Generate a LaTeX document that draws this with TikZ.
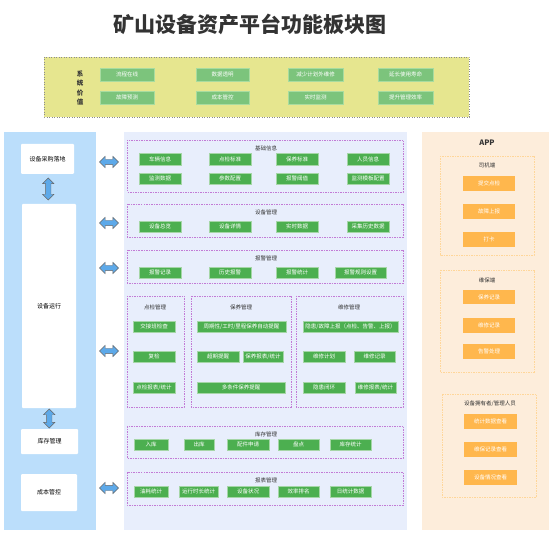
\documentclass[tikz,border=0pt]{standalone}
\usepackage{fontspec}
\setmainfont{Noto Sans CJK SC}
\usetikzlibrary{shapes.arrows,calc}
\definecolor{titlegray}{HTML}{333333}
\definecolor{valyellow}{HTML}{E6E68F}
\definecolor{valgreen}{HTML}{7CC47C}
\definecolor{valgreenline}{HTML}{A8DCA0}
\definecolor{mgreen}{HTML}{4CAF50}
\definecolor{mgreenline}{HTML}{A5D6A7}
\definecolor{leftblue}{HTML}{BBDEFB}
\definecolor{midbg}{HTML}{E8EEFC}
\definecolor{grpline}{HTML}{C27BD6}
\definecolor{rightbg}{HTML}{FDEDDB}
\definecolor{obtncol}{HTML}{FFB74D}
\definecolor{ogrpline}{HTML}{FFD699}
\definecolor{arrowblue}{HTML}{5DA9E9}
\newcommand\bx[7]{\node[#1, minimum width={(#5-#3)*1pt}, minimum height={(#6-#4)*1pt}] (#2) at ({(#3+#5)/2},{(#4+#6)/2}) {#7};}
\tikzset{
  vbtn/.style={fill=valgreen, draw=valgreenline, line width=0.5pt, text=white, inner sep=0pt, font=\fontsize{5.5}{6}\selectfont},
  gbtn/.style={fill=mgreen, draw=mgreenline, line width=0.5pt, text=white, inner sep=0pt, font=\fontsize{5.5}{6}\selectfont},
  obtn/.style={fill=obtncol, draw=none, text=white, inner sep=0pt, font=\fontsize{5.5}{6}\selectfont},
  wbox/.style={fill=white, draw=none, rounded corners=1pt, inner sep=0pt, font=\fontsize{6}{7}\selectfont},
  grp/.style={draw=grpline, dashed, dash pattern=on 1.5pt off 1pt, line width=0.5pt},
  ogrp/.style={draw=ogrpline, dashed, dash pattern=on 1.5pt off 1pt, line width=0.5pt},
  gtitle/.style={text=titlegray, font=\fontsize{5.5}{6}\selectfont, inner sep=0pt},
  dbl/.style={double arrow, fill=arrowblue, draw=black!60, line width=0.4pt, inner sep=2.5pt, minimum width=11pt, double arrow head extend=3pt, minimum height=19pt}
}
\begin{document}
\begin{tikzpicture}[x=1pt,y=-1pt]
\useasboundingbox (0,0) rectangle (554,534);
\fill[white] (0,0) rectangle (554,534);
% title
\node[font=\bfseries\fontsize{21}{24}\selectfont, text=titlegray] (title) at (250,24) {矿山设备资产平台功能板块图};
% system value
\draw[fill=valyellow, draw=black!45, dotted, line width=0.5pt] (44,57) rectangle (469,117);
\node[font=\bfseries\fontsize{6.5}{9.5}\selectfont, text=titlegray, align=center] (valtitle) at (80,88) {系\\统\\价\\值};
\bx{vbtn}{v1}{100}{68}{154}{81}{流程在线}
\bx{vbtn}{v2}{196}{68}{249}{81}{数据透明}
\bx{vbtn}{v3}{288}{68}{343}{81}{减少计划外维修}
\bx{vbtn}{v4}{378}{68}{433}{81}{延长使用寿命}
\bx{vbtn}{v5}{100}{91}{154}{104}{故障预测}
\bx{vbtn}{v6}{196}{91}{249}{104}{成本管控}
\bx{vbtn}{v7}{288}{91}{343}{104}{实时监测}
\bx{vbtn}{v8}{378}{91}{433}{104}{提升管理效率}
% left panel
\fill[leftblue] (4,132) rectangle (96,530);
\bx{wbox}{l1}{21}{144}{74}{174}{设备采购落地}
\bx{wbox}{l2}{22}{204}{76}{408}{设备运行}
\bx{wbox}{l3}{21}{429}{78}{454}{库存管理}
\bx{wbox}{l4}{21}{474}{77}{511}{成本管控}
\node[dbl, rotate=90, minimum height=22pt] (a1) at ($(l1.south)!0.5!(l2.north)$) {};
\node[dbl, rotate=90, minimum height=19pt] (a2) at ($(l2.south)!0.5!(l3.north)$) {};
% middle panel
\fill[midbg] (124,132) rectangle (407,530);
\node[dbl] (h1) at (109,162) {};
\node[dbl] (h2) at (109,223) {};
\node[dbl] (h3) at (109,268) {};
\node[dbl] (h4) at (109,351) {};
\node[dbl] (h5) at (109,488) {};
% basic info
\draw[grp] (127,140) rectangle (403,192);
\node[gtitle] (t1) at (266,148) {基础信息};
\bx{gbtn}{b1}{139}{153}{181}{165}{车辆信息}
\bx{gbtn}{b2}{209}{153}{251}{165}{点检标准}
\bx{gbtn}{b3}{276}{153}{318}{165}{保养标准}
\bx{gbtn}{b4}{347}{153}{389}{165}{人员信息}
\bx{gbtn}{b5}{139}{173}{181}{184}{监测数据}
\bx{gbtn}{b6}{209}{173}{251}{184}{参数配置}
\bx{gbtn}{b7}{276}{173}{318}{184}{报警阈值}
\bx{gbtn}{b8}{347}{173}{389}{184}{监测模板配置}
% equipment management
\draw[grp] (127,204) rectangle (403,237);
\node[gtitle] (t2) at (266,212) {设备管理};
\bx{gbtn}{e1}{139}{221}{181}{232}{设备总览}
\bx{gbtn}{e2}{209}{221}{251}{232}{设备详情}
\bx{gbtn}{e3}{276}{221}{318}{232}{实时数据}
\bx{gbtn}{e4}{347}{221}{389}{232}{采集历史数据}
% alarm management
\draw[grp] (127,250) rectangle (403,283);
\node[gtitle] (t3) at (266,258) {报警管理};
\bx{gbtn}{w1}{139}{267}{181}{278}{报警记录}
\bx{gbtn}{w2}{209}{267}{251}{278}{历史报警}
\bx{gbtn}{w3}{276}{267}{318}{278}{报警统计}
\bx{gbtn}{w4}{335}{267}{386}{278}{报警规则设置}
% inspection
\draw[grp] (127,296) rectangle (184,407);
\node[gtitle] (t4) at (155,307) {点检管理};
\bx{gbtn}{i1}{133}{321}{175}{332}{交接班检查}
\bx{gbtn}{i2}{133}{351}{175}{362}{复检}
\bx{gbtn}{i3}{133}{382}{175}{393}{点检报表/统计}
% maintenance
\draw[grp] (191,296) rectangle (291,407);
\node[gtitle] (t5) at (241,307) {保养管理};
\bx{gbtn}{m1}{197}{321}{286}{332}{周期性/工时/里程保养自动提醒}
\bx{gbtn}{m2}{197}{351}{239}{362}{超期提醒}
\bx{gbtn}{m3}{243}{351}{283}{362}{保养报表/统计}
\bx{gbtn}{m4}{197}{382}{285}{393}{多条件保养提醒}
% repair
\draw[grp] (296,296) rectangle (403,407);
\node[gtitle] (t6) at (349,307) {维修管理};
\bx{gbtn}{r1}{303}{321}{398}{332}{隐患/故障上报（点检、告警、上报）}
\bx{gbtn}{r2}{303}{351}{345}{362}{维修计划}
\bx{gbtn}{r3}{354}{351}{395}{362}{维修记录}
\bx{gbtn}{r4}{303}{382}{345}{393}{隐患闭环}
\bx{gbtn}{r5}{355}{382}{396}{393}{维修报表/统计}
% inventory
\draw[grp] (127,426) rectangle (403,458);
\node[gtitle] (t7) at (266,434) {库存管理};
\bx{gbtn}{s1}{134}{439}{168}{450}{入库}
\bx{gbtn}{s2}{184}{439}{214}{450}{出库}
\bx{gbtn}{s3}{227}{439}{269}{450}{配件申请}
\bx{gbtn}{s4}{278}{439}{319}{450}{盘点}
\bx{gbtn}{s5}{330}{439}{371}{450}{库存统计}
% reports
\draw[grp] (127,472) rectangle (403,505);
\node[gtitle] (t8) at (266,480) {报表管理};
\bx{gbtn}{p1}{134}{486}{168}{497}{油耗统计}
\bx{gbtn}{p2}{179}{486}{218}{497}{运行时长统计}
\bx{gbtn}{p3}{227}{486}{269}{497}{设备状况}
\bx{gbtn}{p4}{278}{486}{319}{497}{效率排名}
\bx{gbtn}{p5}{330}{486}{371}{497}{日统计数据}
% right panel
\fill[rightbg] (422,132) rectangle (549,530);
\node[font=\bfseries\fontsize{7.5}{8}\selectfont, text=titlegray] (app) at (487,143) {APP};
\draw[ogrp] (440,156) rectangle (534,255);
\node[gtitle] (t9) at (487,165) {司机端};
\bx{obtn}{d1}{463}{176}{515}{191}{提交点检}
\bx{obtn}{d2}{463}{204}{515}{219}{故障上报}
\bx{obtn}{d3}{463}{232}{515}{247}{打卡}
\draw[ogrp] (440,270) rectangle (534,372);
\node[gtitle] (t10) at (487,280) {维保端};
\bx{obtn}{k1}{463}{290}{515}{304}{保养记录}
\bx{obtn}{k2}{463}{318}{515}{333}{维修记录}
\bx{obtn}{k3}{463}{344}{515}{359}{告警处理}
\draw[ogrp] (442,394) rectangle (536,497);
\node[gtitle] (t11) at (490,404) {设备拥有者/管理人员};
\bx{obtn}{o1}{464}{414}{517}{429}{统计数据查看}
\bx{obtn}{o2}{464}{442}{517}{457}{维保记录查看}
\bx{obtn}{o3}{464}{470}{517}{485}{设备情况查看}
\end{tikzpicture}
\end{document}
